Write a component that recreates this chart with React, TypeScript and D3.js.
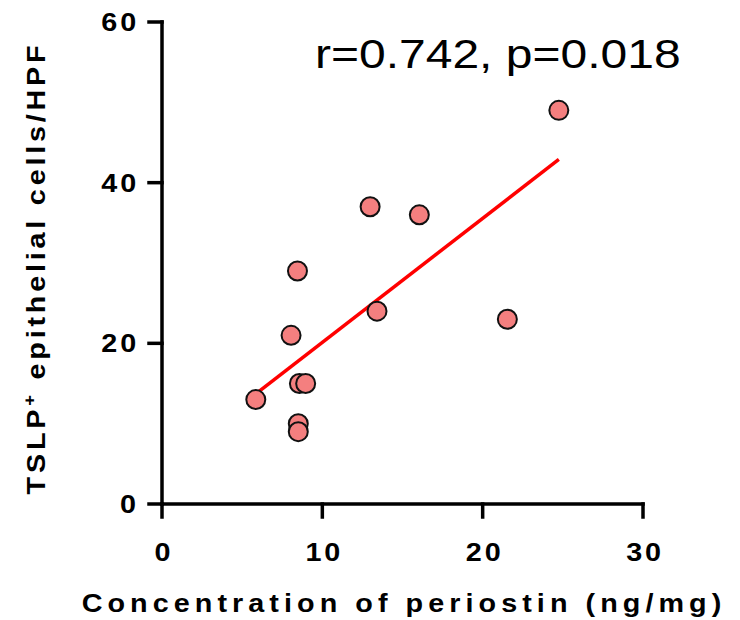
import React from "react";
import * as d3 from "d3";

const periostin = [5.85, 8.05, 8.45, 8.57, 8.96, 8.5, 8.5, 12.98, 13.41, 16.05, 21.54, 24.75];
const tslpCells = [13, 21, 29, 15, 15, 10, 9, 37, 24, 36, 23, 49];
const xTicks = [0, 10, 20, 30];
const yTicks = [0, 20, 40, 60];
const annotation = "r=0.742, p=0.018";
const xTitle = "Concentration of periostin (ng/mg)";

const W = 740, H = 620;
const FONT = "'Liberation Sans', Arial, sans-serif";
const SX = 1.15;

export default function App() {
  const x = d3.scaleLinear().domain([0, 30]).range([162, 643]);
  const y = d3.scaleLinear().domain([0, 60]).range([504, 22]);

  const n = periostin.length;
  const mx = d3.mean(periostin) as number;
  const my = d3.mean(tslpCells) as number;
  let sxy = 0, sxx = 0;
  for (let i = 0; i < n; i++) {
    sxy += (periostin[i] - mx) * (tslpCells[i] - my);
    sxx += (periostin[i] - mx) ** 2;
  }
  const slope = sxy / sxx;
  const intercept = my - slope * mx;
  const x0 = d3.min(periostin) as number;
  const x1 = d3.max(periostin) as number;
  const line = d3.line<[number, number]>().x((d) => x(d[0])).y((d) => y(d[1]));
  const fitPath = line([
    [x0, intercept + slope * x0],
    [x1, intercept + slope * x1],
  ]) as string;

  return (
    <svg width={W} height={H} style={{ display: "block", position: "absolute", left: 0, top: 0, background: "#fff" }}>
      <rect width={W} height={H} fill="#fff" />
      {/* axes */}
      <g stroke="#000" strokeWidth={3.5} fill="none" strokeLinecap="square">
        <line x1={x(0)} x2={x(0)} y1={y(60)} y2={y(0)} />
        <line x1={x(0)} x2={x(30)} y1={y(0)} y2={y(0)} />
        {yTicks.map((t) => (
          <line key={"yt" + t} x1={x(0) - 13} x2={x(0)} y1={y(t)} y2={y(t)} />
        ))}
        {xTicks.map((t) => (
          <line key={"xt" + t} x1={x(t)} x2={x(t)} y1={y(0)} y2={y(0) + 13} />
        ))}
      </g>
      {/* tick labels */}
      <g fontFamily={FONT} fontWeight="bold" fontSize={25} fill="#000">
        {yTicks.map((t) => (
          <text key={"yl" + t} transform={`translate(${139},${y(t) + 9}) scale(${SX},1)`} textAnchor="end" letterSpacing={2.5}>
            {t}
          </text>
        ))}
        {xTicks.map((t) => (
          <text key={"xl" + t} transform={`translate(${x(t) + 2},${561}) scale(${SX},1)`} textAnchor="middle" letterSpacing={2.5}>
            {t}
          </text>
        ))}
      </g>
      {/* axis titles */}
      <text
        transform={`translate(${404},${612}) scale(${SX},1)`}
        textAnchor="middle"
        fontFamily={FONT}
        fontWeight="bold"
        fontSize={25}
        letterSpacing={4.4}
        fill="#000"
      >
        {xTitle}
      </text>
      <text
        transform={`translate(${45},${268}) rotate(-90) scale(${SX},1)`}
        textAnchor="middle"
        fontFamily={FONT}
        fontWeight="bold"
        fontSize={25}
        letterSpacing={3.3}
        fill="#000"
      >
        TSLP<tspan dy={-10} fontSize={16}>+</tspan>
        <tspan dy={10}> epithelial cells/HPF</tspan>
      </text>
      {/* fit line */}
      <path d={fitPath} stroke="#ff0000" strokeWidth={3.5} fill="none" />
      {/* points */}
      <g>
        {periostin.map((v, i) => (
          <circle key={i} cx={x(v)} cy={y(tslpCells[i])} r={9.5} fill="#f47f7f" stroke="#111" strokeWidth={2} />
        ))}
      </g>
      {/* annotation */}
      <text
        transform={`translate(${315},${68}) scale(${1.2},1)`}
        fontFamily={FONT}
        fontSize={40}
        fill="#000"
      >
        {annotation}
      </text>
    </svg>
  );
}
